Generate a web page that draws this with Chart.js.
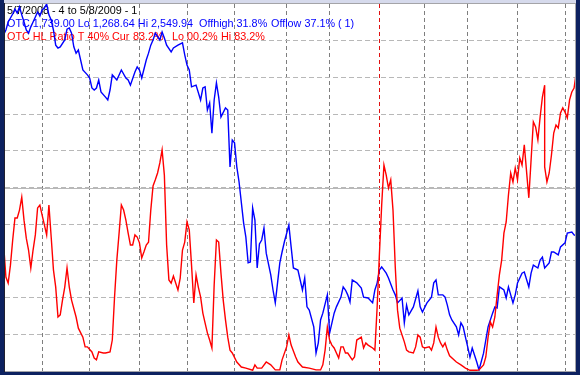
<!DOCTYPE html>
<html>
<head>
<meta charset="utf-8">
<script src="https://cdn.jsdelivr.net/npm/chart.js@4.4.1/dist/chart.umd.min.js"></script>
<style>
html, body { margin: 0; padding: 0; background: #fff; }
#wrap { width: 580px; height: 375px; position: relative; }
</style>
</head>
<body>
<div id="wrap"><canvas id="otcChart"></canvas></div>
<script>
// trading day index 0 = 5/7/2008 ... 253 = 5/8/2009
var OTC_DAYS = [
  0,1,2,4,5,6,7,8,9,10,
  11,12,13,15,16,17,18,19,20,21,
  22,23,24,25,27,28,29,30,31,32,
  33,35,37,38,39,40,41,42,43,45,
  46,47,48,50,52,54,55,56,58,59,
  60,61,63,64,65,66,67,69,70,71,
  72,74,75,77,79,80,81,82,83,85,
  87,88,89,90,91,92,93,94,95,96,
  98,99,100,101,102,103,104,106,107,108,
  109,110,111,112,113,114,115,116,118,119,
  120,121,122,123,124,126,127,128,130,131,
  132,133,134,135,137,138,139,140,141,143,
  144,146,147,149,150,151,152,153,154,156,
  158,159,161,163,164,165,166,167,169,170,
  172,173,174,176,177,178,179,181,183,184,
  185,187,189,190,191,192,194,195,196,197,
  198,200,201,202,203,204,205,206,207,209,
  210,212,213,214,216,217,218,219,221,222,
  223,225,226,227,229,230,232,233,234,236,
  237,238,239,241,242,243,245,246,248,249,
  251,252,253
];
var OTC_CLOSE = [
  2442,2459,2487,2515,2532,2518,2540,2512,2487,2459,
  2448,2470,2487,2522,2508,2529,2536,2550,2512,2494,
  2459,2406,2396,2400,2424,2462,2466,2448,2400,2378,
  2389,2319,2302,2291,2256,2249,2256,2284,2242,2224,
  2214,2249,2302,2284,2319,2291,2284,2266,2312,2330,
  2319,2291,2354,2378,2406,2424,2448,2424,2452,2431,
  2406,2382,2396,2406,2414,2372,2336,2319,2260,2266,
  2214,2256,2260,2179,2204,2098,2214,2274,2224,2154,
  2186,2179,1980,2074,2064,1980,1927,1784,1734,1644,
  1647,1836,1794,1626,1710,1724,1766,1678,1602,1549,
  1504,1574,1644,1682,1717,1776,1700,1626,1619,1584,
  1549,1591,1490,1479,1420,1328,1364,1444,1468,1532,
  1398,1468,1490,1524,1560,1549,1532,1507,1584,1574,
  1556,1524,1521,1504,1549,1574,1619,1630,1608,1591,
  1549,1532,1504,1521,1434,1496,1462,1490,1546,1490,
  1472,1504,1524,1574,1584,1532,1532,1524,1496,1462,
  1444,1420,1392,1434,1420,1384,1350,1314,1346,1297,
  1269,1328,1374,1420,1468,1490,1486,1560,1549,1521,
  1560,1504,1532,1574,1608,1612,1560,1608,1636,1626,
  1654,1664,1626,1644,1682,1682,1672,1700,1714,1748,
  1752,1742,1739
];
var HL_DAYS = [
  0,1,2,3,4,5,6,7,8,9,
  10,11,12,13,14,15,16,17,18,19,
  20,21,22,23,24,25,26,27,28,29,
  30,32,33,35,36,37,39,40,41,42,
  44,45,47,48,49,50,51,52,53,54,
  55,56,57,58,59,60,61,62,63,64,
  65,66,67,68,69,70,71,72,73,74,
  75,77,78,79,80,81,82,83,84,85,
  86,87,88,89,90,91,92,93,94,95,
  96,97,98,99,100,101,103,105,107,110,
  111,112,114,116,118,120,122,123,125,126,
  127,129,130,132,135,138,140,141,142,143,
  144,145,146,148,149,150,151,152,154,155,
  156,158,159,160,161,163,164,165,166,167,
  168,169,170,171,172,173,174,175,176,177,
  178,179,181,182,183,184,185,186,188,189,
  190,191,192,193,194,195,196,197,200,202,
  204,206,209,210,212,213,214,215,216,217,
  218,219,220,221,222,223,224,225,226,227,
  228,229,230,232,233,234,235,236,237,238,
  239,239,240,241,242,243,244,245,246,247,
  248,249,250,251,252,253
];
var HL_RATIO = [
  35.0,26.1,24.4,29.4,36.4,42.5,42.5,44.7,48.3,41.9,
  36.9,33.6,28.6,33.6,37.8,45.3,46.1,43.3,40.6,37.8,
  46.1,37.2,28.1,23.3,15.0,15.6,19.7,23.3,28.6,23.3,
  19.7,15.0,11.9,9.4,6.7,6.7,5.3,3.6,3.1,5.3,
  5.0,5.0,5.3,8.6,20.6,30.8,38.3,46.1,44.7,41.9,
  38.3,35.0,35.0,37.8,37.2,35.6,31.4,33.1,35.0,35.8,
  44.7,51.4,53.1,55.0,57.8,61.4,54.4,35.0,25.3,24.4,
  26.4,22.5,25.8,33.6,35.8,41.4,39.2,29.4,18.9,26.7,
  23.3,20.6,16.1,13.3,10.6,8.6,6.4,23.9,36.4,35.8,
  27.2,19.7,14.2,9.4,5.8,5.0,2.5,1.1,0.8,0.2,
  1.7,0.8,0.8,2.5,1.7,0.3,0.3,3.1,6.7,10.0,
  7.2,3.9,2.5,1.1,0.8,0.3,0.3,1.7,5.8,12.2,
  8.6,7.2,6.4,3.6,6.7,6.7,5.0,5.0,3.1,3.9,
  8.6,9.4,6.4,7.8,7.2,6.4,5.8,17.8,32.5,46.1,
  57.2,54.4,50.8,53.1,44.7,28.9,16.9,11.9,10.0,8.1,
  5.8,5.3,5.0,6.7,10.0,9.4,6.7,6.4,6.7,5.8,
  7.8,12.2,9.4,7.8,6.7,7.8,5.8,4.2,2.5,1.7,
  0.8,0.2,0.2,0.3,1.7,3.9,9.4,13.6,12.2,15.0,
  21.1,26.7,30.8,38.3,41.4,48.9,55.0,52.5,56.4,53.1,
  59.2,57.2,62.8,48.1,58.6,69.2,67.8,64.2,70.6,76.1,
  79.4,56.7,52.5,55.0,60.0,66.1,68.3,67.5,71.7,73.1,
  71.9,70.3,75.3,77.5,78.6,83.2
];
// first trading day of each month, Jun 2008 .. May 2009
var MONTH_START_DAYS = [17,38,60,81,102,125,144,166,186,205,227,248];
var YEAR_START_DAY = 166;

var TITLE_TEXT = "5/7/2008 - 4 to 5/8/2009 - 1";
var OTC_TEXT = ["OTC 1,739.00 Lo 1,268.64 Hi 2,549.94", "Offhigh 31.8%", "Offlow 37.1% ( 1)"];
var HL_TEXT = ["OTC HL Ratio T 40% Cur", "83.2%", "Lo 00.2%", "Hi 83.2%"];

function pairs(xs, ys) {
  return xs.map(function (x, i) { return { x: x, y: ys[i] }; });
}

var framePlugin = {
  id: 'frame',
  beforeDraw: function (chart) {
    var c = chart.ctx, a = chart.chartArea, w = chart.width, h = chart.height;
    c.save();
    c.fillStyle = '#0d2160';
    c.fillRect(0, 0, w, h);
    c.fillStyle = '#d6daec';
    c.fillRect(a.left - 1, 0, a.right - a.left + 2, a.top - 1);
    c.fillStyle = '#ffffff';
    c.fillRect(a.left, a.top, a.right - a.left, a.bottom - a.top);
    c.fillStyle = '#a4a4a8';
    c.fillRect(a.left - 1, a.top - 1, a.right - a.left + 2, 1);
    c.fillRect(a.right, a.top - 1, 1, a.bottom - a.top + 2);
    c.fillRect(a.left - 1, a.bottom, a.right - a.left + 2, 1);
    c.fillStyle = '#202030';
    c.fillRect(a.left - 1, a.top - 1, 1, a.bottom - a.top + 2);
    c.restore();
  }
};

var headerPlugin = {
  id: 'header',
  beforeDatasetsDraw: function (chart) {
    var c = chart.ctx, a = chart.chartArea;
    var midY = Math.round(chart.scales.yg.getPixelForValue(5)) + 0.5;
    c.save();
    c.strokeStyle = '#b8b8b8';
    c.lineWidth = 1;
    c.beginPath();
    c.moveTo(a.left, midY);
    c.lineTo(a.right, midY);
    c.stroke();

    c.font = '10.8px "Liberation Sans", Arial, sans-serif';
    c.textBaseline = 'alphabetic';
    c.fillStyle = '#000000';
    c.fillText(TITLE_TEXT, 7, 14);
    c.fillStyle = '#0000ff';
    c.fillText(OTC_TEXT[0], 7, 27);
    c.fillText(OTC_TEXT[1], 199, 27);
    c.fillText(OTC_TEXT[2], 271, 27);
    c.fillStyle = '#ff0000';
    c.fillText(HL_TEXT[0], 7, 40);
    c.fillText(HL_TEXT[1], 133, 40);
    c.fillText(HL_TEXT[2], 172, 40);
    c.fillText(HL_TEXT[3], 221, 40);
    c.restore();
  }
};

var ctx = document.getElementById("otcChart").getContext("2d");
var otcChart = new Chart(ctx, {
  type: 'line',
  data: {
    datasets: [
      {
        label: 'OTC',
        data: pairs(OTC_DAYS, OTC_CLOSE),
        yAxisID: 'yOTC',
        borderColor: '#0000ff',
        borderWidth: 1.4,
        pointRadius: 0,
        tension: 0,
        order: 1
      },
      {
        label: 'OTC HL Ratio',
        data: pairs(HL_DAYS, HL_RATIO),
        yAxisID: 'yHL',
        borderColor: '#ff0000',
        borderWidth: 1.4,
        pointRadius: 0,
        tension: 0,
        order: 0
      }
    ]
  },
  options: {
    responsive: true,
    maintainAspectRatio: false,
    animation: false,
    events: [],
    layout: { padding: { left: 5, right: 5, top: 4, bottom: 4 } },
    plugins: { legend: { display: false }, tooltip: { enabled: false }, title: { display: false } },
    scales: {
      x: {
        type: 'linear',
        min: 0.6,
        max: 252.4,
        afterBuildTicks: function (scale) {
          scale.ticks = MONTH_START_DAYS.map(function (v) { return { value: v }; });
        },
        ticks: { display: false },
        grid: {
          drawTicks: false,
          lineWidth: 1,
          color: function (c) {
            return c.tick && c.tick.value === YEAR_START_DAY ? '#e01010' : '#7e7e7e';
          }
        },
        border: { display: false, dash: [4, 3] }
      },
      yg: {
        position: 'left',
        min: 0,
        max: 10,
        ticks: { display: false, stepSize: 1 },
        grid: {
          drawTicks: false,
          lineWidth: 1,
          color: function (c) {
            var v = c.tick && c.tick.value;
            return (v === 0 || v === 10) ? 'rgba(0,0,0,0)' : '#b8b8b8';
          }
        },
        border: { display: false, dash: [5, 3] }
      },
      yHL: { display: false, min: 0, max: 101.94 },
      yOTC: { display: false, min: 1265.5, max: 2550 }
    }
  },
  plugins: [framePlugin, headerPlugin]
});
</script>
</body>
</html>
